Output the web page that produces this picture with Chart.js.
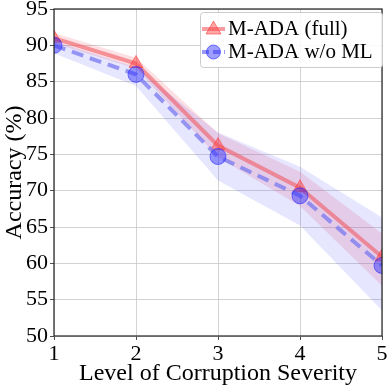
<!DOCTYPE html>
<html><head><meta charset="utf-8">
<script src="https://cdn.jsdelivr.net/npm/chart.js@4.4.1/dist/chart.umd.min.js"></script>
<style>html,body{margin:0;padding:0;background:#fff;}#wrap{width:391px;height:388px;position:relative;}</style>
</head><body><div id="wrap"><canvas id="c" width="391" height="388"></canvas></div>
<script>
const levels = [1, 2, 3, 4, 5];
const fullMean  = [91.0, 87.5, 76.2, 70.4, 60.9];
const fullUpper = [91.7, 88.3, 77.9, 72.6, 64.1];
const fullLower = [90.3, 86.8, 74.6, 67.9, 56.9];
const woMean    = [90.0, 86.0, 74.7, 69.3, 59.7];
const woUpper   = [90.6, 87.0, 78.0, 73.3, 66.3];
const woLower   = [88.9, 84.4, 71.4, 65.2, 53.5];
const yTicks = [50, 55, 60, 65, 70, 75, 80, 85, 90, 95];
const seriesNames = ['M-ADA (full)', 'M-ADA w/o ML'];
const xTitle = 'Level of Corruption Severity';
const yTitle = 'Accuracy (%)';

const pts = arr => arr.map((v, i) => ({x: levels[i], y: v}));
const SERIF = "'Liberation Serif', 'DejaVu Serif', serif";

const frame = {
  id: 'frame',
  afterDraw(chart) {
    const {ctx, chartArea: a} = chart;
    ctx.save();
    ctx.strokeStyle = '#222'; ctx.lineWidth = 1.2;
    ctx.strokeRect(a.left, a.top, a.right - a.left, a.bottom - a.top);
    // legend
    const bx = 200, by = 12, bw = 182, bh = 55;
    ctx.fillStyle = 'rgba(255,255,255,0.85)';
    ctx.strokeStyle = '#cccccc'; ctx.lineWidth = 1;
    ctx.beginPath();
    if (ctx.roundRect) ctx.roundRect(bx + 0.5, by + 0.5, bw, bh, 3); else ctx.rect(bx + 0.5, by + 0.5, bw, bh);
    ctx.fill(); ctx.stroke();
    const rows = [by + 17, by + 40];
    ctx.strokeStyle = 'rgba(240,90,100,0.6)'; ctx.lineWidth = 4;
    ctx.beginPath(); ctx.moveTo(202, rows[0]); ctx.lineTo(225, rows[0]); ctx.stroke();
    ctx.fillStyle = 'rgba(255,60,60,0.45)'; ctx.strokeStyle = 'rgba(255,60,60,0.6)'; ctx.lineWidth = 1;
    ctx.beginPath(); ctx.moveTo(213.5, rows[0] - 8); ctx.lineTo(221, rows[0] + 5); ctx.lineTo(206, rows[0] + 5); ctx.closePath(); ctx.fill(); ctx.stroke();
    ctx.strokeStyle = 'rgba(120,120,240,0.75)'; ctx.lineWidth = 4; ctx.setLineDash([7, 4]);
    ctx.beginPath(); ctx.moveTo(202, rows[1]); ctx.lineTo(225, rows[1]); ctx.stroke(); ctx.setLineDash([]);
    ctx.fillStyle = 'rgba(40,40,255,0.45)'; ctx.strokeStyle = 'rgba(40,40,255,0.6)'; ctx.lineWidth = 1;
    ctx.beginPath(); ctx.arc(213.5, rows[1], 7, 0, Math.PI * 2); ctx.fill(); ctx.stroke();
    ctx.fillStyle = '#000'; ctx.font = '21px ' + SERIF; ctx.textBaseline = 'middle'; ctx.textAlign = 'left';
    ctx.fillText(seriesNames[0], 228, rows[0]);
    ctx.fillText(seriesNames[1], 228, rows[1]);
    ctx.restore();
  }
};

new Chart(document.getElementById('c'), {
  type: 'line',
  data: {
    datasets: [
      {label: 'fullUpper', data: pts(fullUpper), borderWidth: 0, pointRadius: 0, backgroundColor: 'rgba(240,60,80,0.16)', fill: '+1', order: 4},
      {label: 'fullLower', data: pts(fullLower), borderWidth: 0, pointRadius: 0, fill: false, order: 4},
      {label: 'woUpper', data: pts(woUpper), borderWidth: 0, pointRadius: 0, backgroundColor: 'rgba(60,60,255,0.13)', fill: '+1', order: 3},
      {label: 'woLower', data: pts(woLower), borderWidth: 0, pointRadius: 0, fill: false, order: 3},
      {label: seriesNames[0], data: pts(fullMean), borderColor: 'rgba(240,90,100,0.6)', borderWidth: 4, fill: false,
        pointStyle: 'triangle', pointRadius: 8, pointBackgroundColor: 'rgba(255,60,60,0.45)', pointBorderColor: 'rgba(255,60,60,0.6)', pointBorderWidth: 1, order: 2},
      {label: seriesNames[1], data: pts(woMean), borderColor: 'rgba(120,120,240,0.75)', borderWidth: 4, borderDash: [12, 7], fill: false,
        pointStyle: 'circle', pointRadius: 8, pointBackgroundColor: 'rgba(40,40,255,0.45)', pointBorderColor: 'rgba(40,40,255,0.6)', pointBorderWidth: 1, order: 1}
    ]
  },
  options: {
    responsive: false, animation: false,
    layout: {padding: {top: 7, right: 6, left: 0, bottom: 0}},
    plugins: {legend: {display: false}, tooltip: {enabled: false}},
    elements: {line: {tension: 0}},
    scales: {
      x: {
        type: 'linear', min: 1, max: 5,
        afterBuildTicks: s => { s.ticks = levels.map(v => ({value: v})); },
        afterFit: s => { s.height = 52; s.paddingLeft = 0; s.paddingRight = 0; },
        grid: {color: '#c8c8c8', lineWidth: 0.8, borderDash: [3, 2], tickLength: 4, tickColor: '#222', tickBorderDash: []},
        border: {display: false},
        ticks: {color: '#000', font: {family: SERIF, size: 22}, padding: 1, maxRotation: 0},
        title: {display: true, text: xTitle, color: '#000', font: {family: SERIF, size: 24}, padding: {top: 0, bottom: 0}}
      },
      y: {
        min: 50, max: 95,
        afterBuildTicks: s => { s.ticks = yTicks.map(v => ({value: v})); },
        afterFit: s => { s.width = 54; s.paddingTop = 0; s.paddingBottom = 0; },
        grid: {color: '#c8c8c8', lineWidth: 0.8, borderDash: [3, 2], tickLength: 4, tickColor: '#222', tickBorderDash: []},
        border: {display: false},
        ticks: {color: '#000', font: {family: SERIF, size: 22}, padding: 2},
        title: {display: true, text: yTitle, color: '#000', font: {family: SERIF, size: 24}, padding: {top: 0, bottom: 0}}
      }
    }
  },
  plugins: [frame]
});
</script></body></html>
